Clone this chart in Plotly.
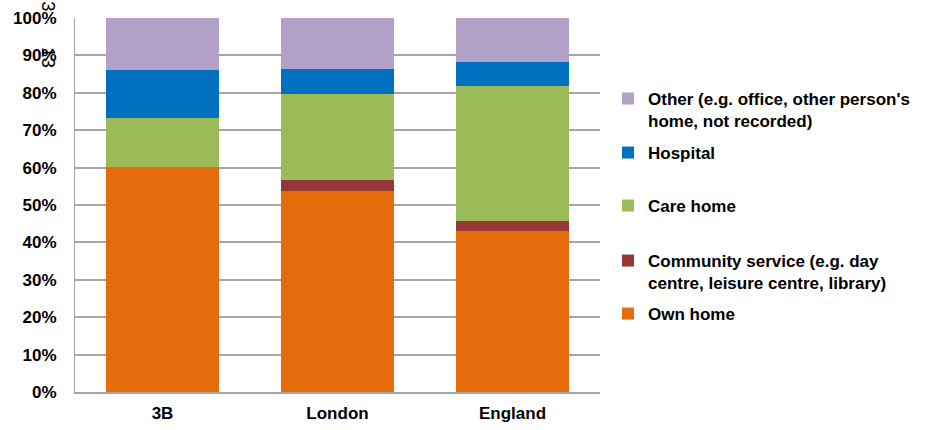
import plotly.graph_objects as go

categories = ["3B", "London", "England"]
own_home = [60.2, 53.8, 43.1]
community = [0.0, 3.0, 2.6]
care_home = [13.1, 23.0, 36.1]
hospital = [12.8, 6.6, 6.4]
other = [13.9, 13.6, 11.8]

series = [
    ("Own home", own_home, "#E46C0A", "legend5", 313),
    ("Community service (e.g. day<br>centre, leisure centre, library)", community, "#953735", "legend4", 260),
    ("Care home", care_home, "#9BBB59", "legend3", 205),
    ("Hospital", hospital, "#0070C0", "legend2", 152),
    ("Other (e.g. office, other person's<br>home, not recorded)", other, "#B3A2C7", "legend", 98),
]

FONT = "Liberation Sans, Arial, sans-serif"
W, H = 933, 430
FS = 17

fig = go.Figure()
for name, vals, color, lg, _ in series:
    fig.add_trace(go.Bar(
        x=categories, y=vals, name=name, legend=lg, showlegend=True,
        marker=dict(color=color, line=dict(width=0)),
    ))

legend_layout = {}
for name, vals, color, lg, ypix in series:
    legend_layout[lg] = dict(
        xref="container", yref="container",
        x=(648 - 40) / W, y=1 - (ypix - 17) / H,
        xanchor="left", yanchor="top",
        bgcolor="rgba(0,0,0,0)", borderwidth=0,
        font=dict(family=FONT, size=FS, color="#000000", weight="bold"),
        valign="top", itemclick=False, visible=True,
    )

fig.update_layout(
    width=W, height=H,
    barmode="stack", bargap=1 - 113 / 175,
    plot_bgcolor="white", paper_bgcolor="white",
    margin=dict(l=75, r=W - 600, t=18, b=H - 392, autoexpand=False),
    font=dict(family=FONT, size=FS, color="#000000"),
    showlegend=True,
    **legend_layout,
)
fig.update_xaxes(
    showline=True, linecolor="#A6A6A6", linewidth=2,
    tickfont=dict(family=FONT, size=FS, color="#000000", weight="bold"),
    ticklabelstandoff=5, showgrid=False, automargin=False,
)
fig.update_yaxes(
    range=[0, 100], dtick=10, ticksuffix="%",
    showline=True, linecolor="#A6A6A6", linewidth=1,
    showgrid=True, gridcolor="#A6A6A6", gridwidth=1.5,
    zeroline=False, automargin=False,
    tickfont=dict(family=FONT, size=FS, color="#000000", weight="bold"),
    ticklabelstandoff=14,
)

fig.add_annotation(text="13", textangle=90, x=(36 - 75) / 525, y=(392 - 45) / 374,
                   xref="paper", yref="paper", showarrow=False,
                   font=dict(family=FONT, size=19, color="#000000"))
fig.add_annotation(text="3", textangle=90, x=(36 - 75) / 525, y=(392 + 1) / 374,
                   xref="paper", yref="paper", showarrow=False,
                   font=dict(family=FONT, size=19, color="#000000"))

fig.write_html("out.html")
